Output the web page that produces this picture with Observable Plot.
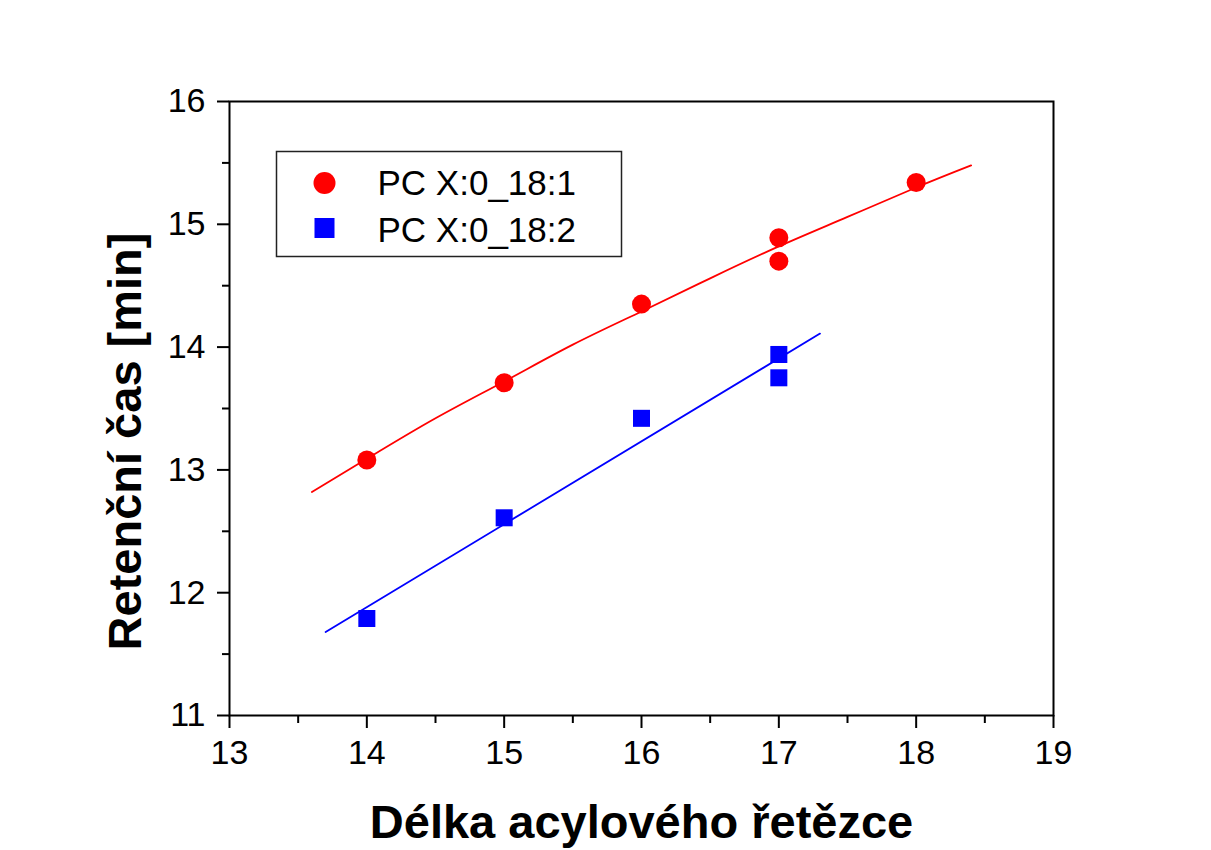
<!DOCTYPE html>
<html>
<head>
<meta charset="utf-8">
<script src="https://cdn.jsdelivr.net/npm/d3@7"></script>
<script src="https://cdn.jsdelivr.net/npm/@observablehq/plot@0.6"></script>
<style>
  body { margin: 0; background: #fff; }
  #chart { width: 1211px; height: 850px; }
</style>
</head>
<body>
<div id="chart"></div>
<script>
// ---- data ----
const seriesNames = ["PC X:0_18:1", "PC X:0_18:2"];
const seriesColors = ["#ff0000", "#0000ff"];

const redX = [14, 15, 16, 17, 17, 18];
const redY = [13.08, 13.71, 14.35, 14.89, 14.70, 15.34];
const blueX = [14, 15, 16, 17, 17];
const blueY = [11.79, 12.61, 13.42, 13.94, 13.75];

const redFitX = [13.6, 14, 14.5, 15, 15.5, 16, 16.5, 17, 17.5, 18, 18.4];
const redFitY = [12.82, 13.09, 13.42, 13.72, 14.02, 14.29, 14.56, 14.82, 15.06, 15.30, 15.48];
const blueFitX = [13.7, 17.3];
const blueFitY = [11.68, 14.11];

const xTicks = [13, 14, 15, 16, 17, 18, 19];
const xMinorTicks = [13.5, 14.5, 15.5, 16.5, 17.5, 18.5];
const yTicks = [11, 12, 13, 14, 15, 16];
const yMinorTicks = [11.5, 12.5, 13.5, 14.5, 15.5];

const xTitle = "Délka acylového řetězce";
const yTitle = "Retenční čas [min]";

// ---- build tables ----
const red = redX.map((x, i) => ({x, y: redY[i]}));
const blue = blueX.map((x, i) => ({x, y: blueY[i]}));
const redFit = redFitX.map((x, i) => ({x, y: redFitY[i]}));
const blueFit = blueFitX.map((x, i) => ({x, y: blueFitY[i]}));

const font = "'Liberation Sans', Arial, Helvetica, sans-serif";

const svg = Plot.plot({
  width: 1211,
  height: 850,
  marginLeft: 229,
  marginRight: 158,
  marginTop: 101,
  marginBottom: 135,
  style: {fontFamily: font, color: "black", background: "white"},
  x: {domain: [13, 19]},
  y: {domain: [11, 16]},
  marks: [
    Plot.line(redFit, {x: "x", y: "y", stroke: seriesColors[0], strokeWidth: 1.8, curve: "natural"}),
    Plot.line(blueFit, {x: "x", y: "y", stroke: seriesColors[1], strokeWidth: 1.8}),
    Plot.dot(red, {x: "x", y: "y", r: 9.5, fill: seriesColors[0], stroke: "none", symbol: "circle"}),
    Plot.dot(blue, {x: "x", y: "y", r: 9.6, fill: seriesColors[1], stroke: "none", symbol: "square"}),
    Plot.frame({stroke: "black", strokeWidth: 2}),
    Plot.axisX(xTicks, {tickSize: 13, tickPadding: 11, fontSize: 34, strokeWidth: 2, label: null, tickFormat: d => String(d)}),
    Plot.axisX(xMinorTicks, {tickSize: 8, strokeWidth: 2, text: null, label: null}),
    Plot.axisY(yTicks, {tickSize: 12, tickPadding: 12, fontSize: 34, strokeWidth: 2, label: null, tickFormat: d => String(d)}),
    Plot.axisY(yMinorTicks, {tickSize: 7, strokeWidth: 2, text: null, label: null}),
    Plot.text([xTitle], {text: d => d, frameAnchor: "bottom", lineAnchor: "middle", textAnchor: "middle", dy: 107, fontSize: 47, fontWeight: "bold", fill: "black"}),
    Plot.text([yTitle], {text: d => d, frameAnchor: "left", lineAnchor: "middle", textAnchor: "middle", dx: -104, dy: 33, rotate: -90, fontSize: 47, fontWeight: "bold", fill: "black"})
  ]
});

// ---- legend inside the plot area ----
const g = d3.select(svg).append("g").attr("transform", "translate(276.5,151.5)");
g.append("rect").attr("width", 345).attr("height", 105)
  .attr("fill", "white").attr("stroke", "#222").attr("stroke-width", 1.5);
g.append("circle").attr("cx", 48).attr("cy", 31.5).attr("r", 11).attr("fill", seriesColors[0]);
g.append("rect").attr("x", 38).attr("y", 66.5).attr("width", 20).attr("height", 20).attr("fill", seriesColors[1]);
seriesNames.forEach((name, i) => {
  g.append("text").attr("x", 101).attr("y", 43 + i * 47)
    .attr("text-anchor", "start")
    .attr("font-size", 35).attr("font-family", font).attr("fill", "black").text(name);
});

document.getElementById("chart").appendChild(svg);
</script>
</body>
</html>
